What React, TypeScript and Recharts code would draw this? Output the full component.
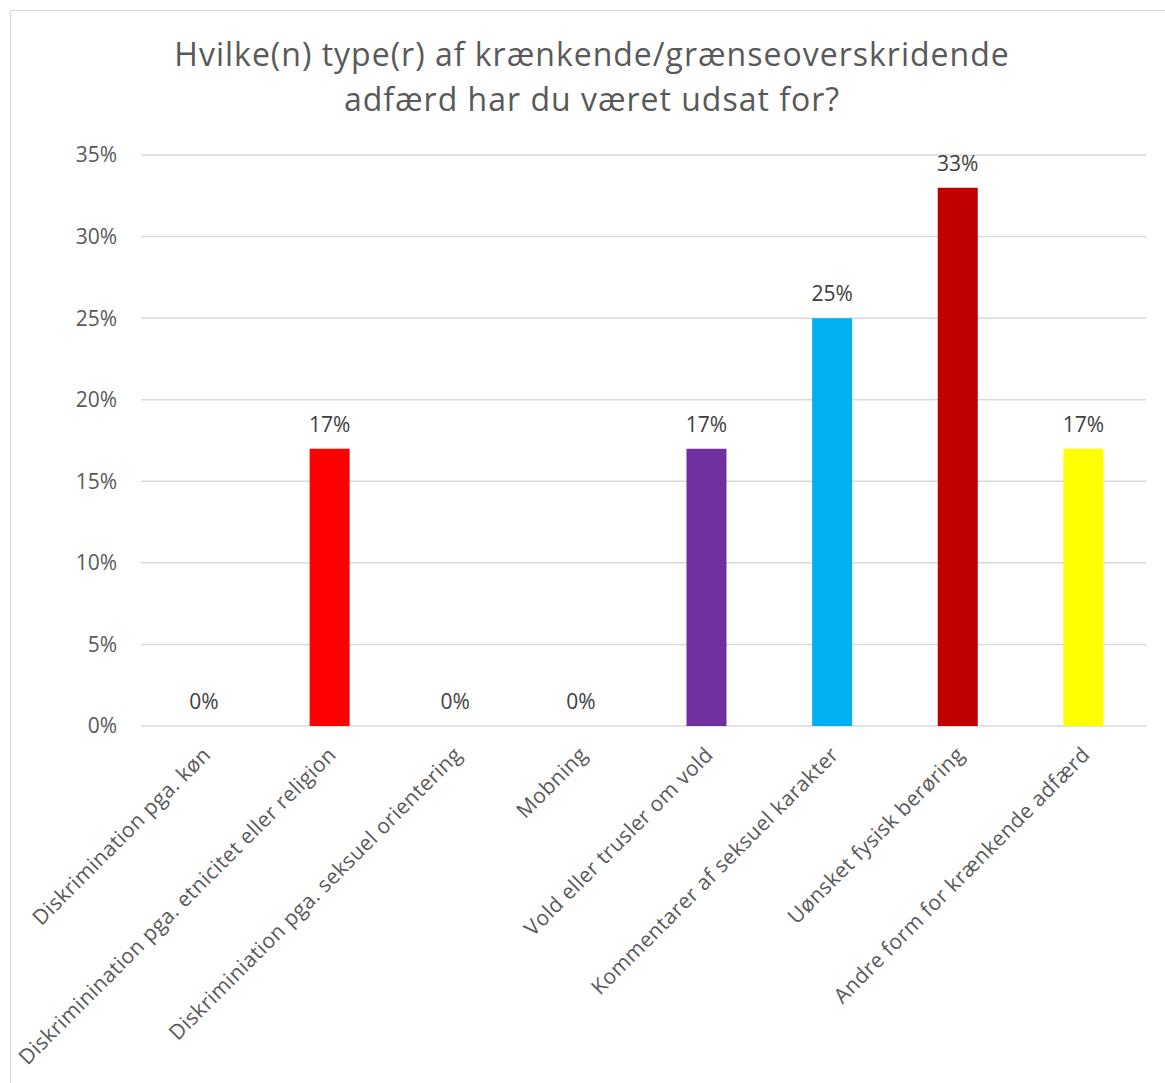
import { BarChart, Bar, XAxis, YAxis, CartesianGrid, Cell, LabelList } from "recharts";

const categories = [
  "Diskrimination pga. køn",
  "Diskriminination pga. etnicitet eller religion",
  "Diskriminiation pga. seksuel orientering",
  "Mobning",
  "Vold eller trusler om vold",
  "Kommentarer af seksuel karakter",
  "Uønsket fysisk berøring",
  "Andre form for krænkende adfærd",
];
const shares = [0, 17, 0, 0, 17, 25, 33, 17];
const barColors = ["#4472C4", "#FF0000", "#A5A5A5", "#FFC000", "#7030A0", "#00B0F0", "#C00000", "#FFFF00"];
const yTicks = [0, 5, 10, 15, 20, 25, 30, 35];

const data = categories.map((name, i) => ({ name, value: shares[i] }));

const FONT = "'Open Sans', 'Liberation Sans', Arial, sans-serif";

function CategoryTick(props: any) {
  const { x, y, payload } = props;
  const ax = x + 8;
  const ay = y + 22;
  return (
    <text
      x={ax}
      y={ay}
      transform={`rotate(-45, ${ax}, ${ay})`}
      textAnchor="end"
      fill="#595959"
      fontSize={21}
      letterSpacing={0.4}
      fontFamily={FONT}
    >
      {payload.value}
    </text>
  );
}

// draws the value label, also for the zero bars
function ValueLabel(props: any) {
  const { x, y, width, height, value } = props;
  const top = value === 0 ? y + height : y;
  return (
    <text
      x={x + width / 2}
      y={top - 17}
      textAnchor="middle"
      fill="#404040"
      fontSize={21}
      fontFamily={FONT}
    >
      {`${value}%`}
    </text>
  );
}

export default function App() {
  return (
    <div style={{ position: "absolute", left: 0, top: 0, width: 1165, height: 1083, background: "#fff", fontFamily: FONT }}>
      {/* chart frame */}
      <div style={{ position: "absolute", left: 10, top: 10, width: 1170, height: 1080, border: "1.5px solid #d9d9d9" }} />
      <svg style={{ position: "absolute", left: 0, top: 0 }} width={1165} height={140}>
        <text x={592} y={66} textAnchor="middle" fill="#595959" fontSize={32} letterSpacing={1} fontFamily={FONT}>
          Hvilke(n) type(r) af krænkende/grænseoverskridende
        </text>
        <text x={592} y={111} textAnchor="middle" fill="#595959" fontSize={32} letterSpacing={1} fontFamily={FONT}>
          adfærd har du været udsat for?
        </text>
      </svg>
      <div style={{ position: "absolute", left: 0, top: 0 }}>
        <BarChart
          width={1165}
          height={1083}
          data={data}
          margin={{ top: 155, right: 19, bottom: 0, left: 0 }}
        >
          <CartesianGrid vertical={false} stroke="#d9d9d9" strokeWidth={1.5} />
          <XAxis
            dataKey="name"
            interval={0}
            height={357}
            axisLine={false}
            tickLine={false}
            tick={<CategoryTick />}
          />
          <YAxis
            width={141}
            domain={[0, 35]}
            ticks={yTicks}
            tickFormatter={(v: number) => `${v}%`}
            axisLine={false}
            tickLine={false}
            tickSize={0}
            tickMargin={24}
            tick={{ fill: "#595959", fontSize: 21, fontFamily: FONT }}
          />
          <Bar dataKey="value" barSize={40} minPointSize={1} isAnimationActive={false}>
            {data.map((d, i) => (
              <Cell key={d.name} fill={d.value === 0 ? "transparent" : barColors[i]} />
            ))}
            <LabelList dataKey="value" content={<ValueLabel />} />
          </Bar>
        </BarChart>
      </div>
    </div>
  );
}
